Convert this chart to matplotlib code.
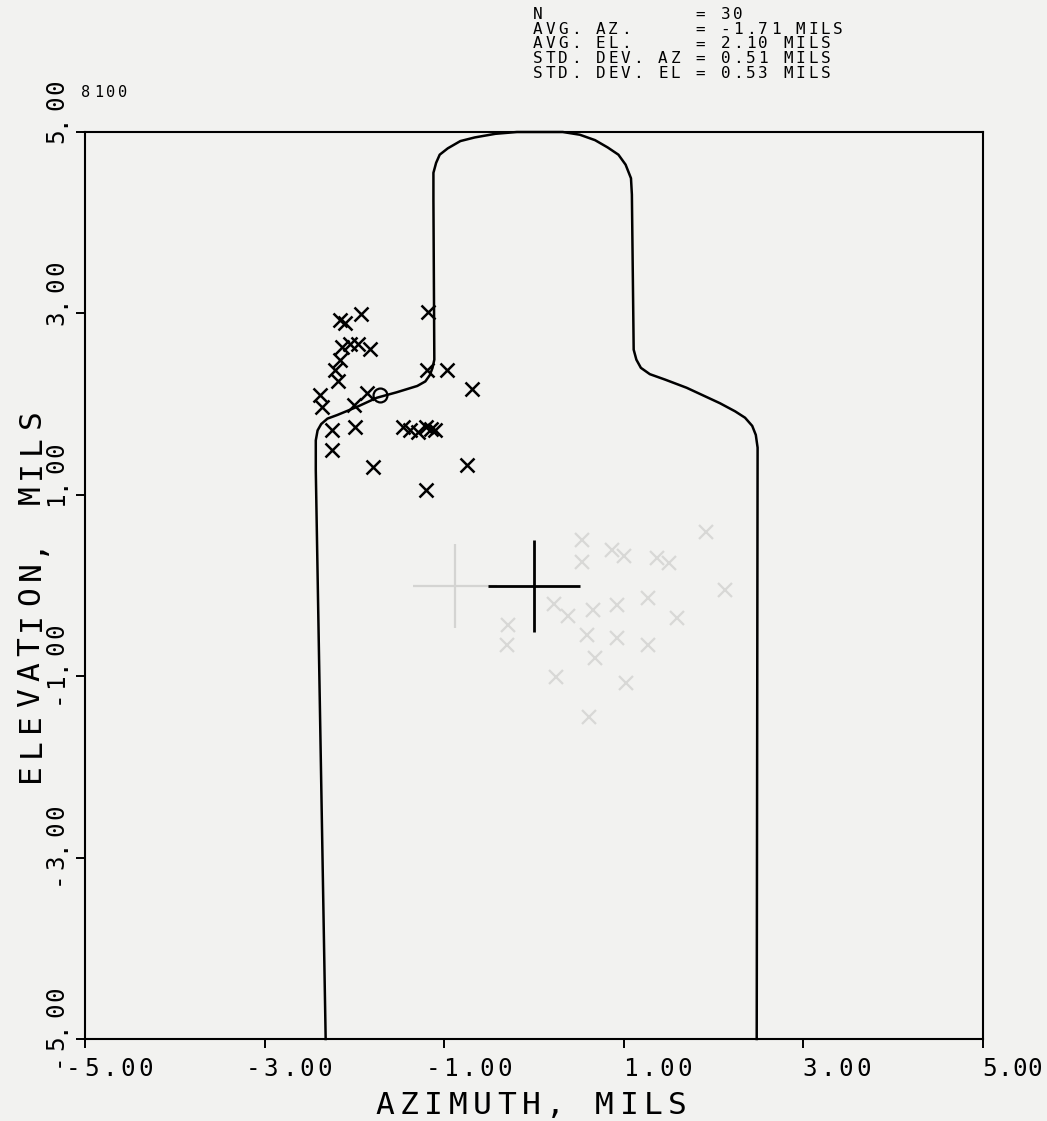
import matplotlib.pyplot as plt

# silhouette target outline, mils (bottom left, round the head, down to bottom right)
outline_az = [-2.32, -2.43, -2.43, -2.41, -2.37, -2.30, -2.19, -1.97, -1.75, -1.53,
              -1.30, -1.21, -1.16, -1.13, -1.11, -1.12, -1.12, -1.09, -1.05, -0.96,
              -0.82, -0.66, -0.43, -0.19, 0.32, 0.51, 0.68, 0.82, 0.94, 1.02,
              1.08, 1.09, 1.11, 1.14, 1.19, 1.29, 1.46, 1.70, 2.07, 2.24,
              2.35, 2.43, 2.47, 2.49, 2.48]
outline_el = [-5.00, 1.27, 1.60, 1.71, 1.78, 1.84, 1.88, 1.97, 2.07, 2.13,
              2.20, 2.25, 2.32, 2.40, 2.49, 4.25, 4.55, 4.66, 4.75, 4.82,
              4.90, 4.94, 4.98, 5.00, 5.00, 4.97, 4.91, 4.83, 4.75, 4.64,
              4.49, 4.31, 2.60, 2.49, 2.40, 2.33, 2.27, 2.18, 2.01, 1.92,
              1.85, 1.76, 1.66, 1.52, -5.00]

# impacts
hit_az = [-2.16, -2.11, -1.93, -1.18, -2.14, -2.05, -1.96, -1.83, -2.16, -2.22,
          -2.18, -2.38, -2.36, -2.01, -1.86, -1.19, -0.97, -0.69, -2.25, -1.99,
          -1.46, -1.29, -1.20, -1.10, -2.25, -1.79, -0.75, -1.20, -1.15, -1.38]
hit_el = [2.93, 2.89, 2.99, 3.02, 2.63, 2.66, 2.66, 2.61, 2.49, 2.38,
          2.25, 2.10, 1.97, 1.99, 2.12, 2.38, 2.38, 2.17, 1.71, 1.75,
          1.75, 1.69, 1.75, 1.71, 1.49, 1.31, 1.33, 1.05, 1.72, 1.71]

# aim point
aim_az = [0.0]
aim_el = [0.0]

# stats block
stat_names = ["N", "AVG. AZ.", "AVG. EL.", "STD. DEV. AZ", "STD. DEV. EL"]
stat_values = ["30", "-1.71 MILS", "2.10 MILS", "0.51 MILS", "0.53 MILS"]
avg_az = -1.71
avg_el = 2.10
plot_id = "8100"

# marks showing through from the back of the sheet
ghost_az = [0.53, 0.53, 0.87, 1.00, 1.37, 1.50, 1.92, 2.13, 1.27, 1.59, 0.22, 0.38,
            0.66, 0.92, 0.59, 0.92, 1.27, -0.29, -0.30, 0.68, 0.25, 1.03, 0.61]
ghost_el = [0.50, 0.26, 0.39, 0.32, 0.30, 0.25, 0.59, -0.05, -0.14, -0.36, -0.20, -0.34,
            -0.27, -0.22, -0.55, -0.58, -0.66, -0.44, -0.66, -0.80, -1.01, -1.08, -1.45]
ghost_aim_az = [-0.88]
ghost_aim_el = [0.0]

x_ticks = [-5, -3, -1, 1, 3, 5]
y_ticks = [5, 3, 1, -1, -3, -5]

W, H = 1047, 1121
paper = '#f2f2f0'
mono = 'DejaVu Sans Mono'

fig = plt.figure(figsize=(W / 100, H / 100), dpi=100, facecolor=paper)
ax = fig.add_axes([85 / W, 1 - 1039 / H, 898 / W, 907 / H])
ax.set_facecolor(paper)
ax.set_xlim(-5, 5)
ax.set_ylim(-5, 5)

ax.plot(ghost_az, ghost_el, 'x', ms=10, mew=1.6, color='#d8d8d6')
ax.plot(ghost_aim_az, ghost_aim_el, '+', ms=60, mew=1.6, color='#d4d4d2')

ax.plot(outline_az, outline_el, color='black', lw=1.8, clip_on=False,
        solid_joinstyle='round')
ax.plot(hit_az, hit_el, 'x', ms=10, mew=1.8, color='black')
ax.plot([avg_az], [avg_el], 'o', ms=10, mfc='none', mec='black', mew=1.6)
ax.plot(aim_az, aim_el, '+', ms=66, mew=2.0, color='black')

for s in ax.spines.values():
    s.set_linewidth(1.5)
ax.set_xticks(x_ticks)
ax.set_yticks(y_ticks)
ax.tick_params(direction='out', length=6.5, width=1.4,
               labelbottom=False, labelleft=False)


def spaced(x, y, s, step, size, rot=0):
    # plotter lettering: one glyph per fixed-pitch cell (pixel coords, top-left origin)
    for i, ch in enumerate(s):
        if ch == ' ':
            continue
        cx, cy = (x, y - i * step) if rot else (x + i * step, y)
        fig.text(cx / W, 1 - cy / H, ch, fontsize=size, family=mono, rotation=rot,
                 rotation_mode='anchor', ha='center', va='center_baseline')


def to_px(az, el):
    dx, dy = ax.transData.transform((az, el))
    return dx, H - dy


# tick labels (the last one is squeezed against the sheet edge, as on the original)
for v in x_ticks:
    lab = f"{v:.2f}"
    k = lab.index('.') - 1
    px, _ = to_px(v, -5)
    x0 = px + 6.5 - k * 18.0
    step = min(18.0, (W - 12 - x0) / (len(lab) - 1))
    spaced(x0, 1067, lab, step, 17.5)

for v in y_ticks:
    lab = f"{v:.2f}"
    k = lab.index('.') - 1
    _, py = to_px(-5, v)
    spaced(54, py + 4 + k * 16.5, lab, 16.5, 17.5, rot=90)

# axis titles
spaced(385, 1103, "AZIMUTH, MILS", 24.4, 22.5)
spaced(28, 773, "ELEVATION, MILS", 25.3, 22.5, rot=90)

# header
spaced(86, 91, plot_id, 12.3, 11)
for j, (name, val) in enumerate(zip(stat_names, stat_values)):
    line = f"{name:<13}= {val}"
    spaced(538, 13 + j * 14.7, line, 12.5, 11.5)

fig.savefig('out.png', dpi=100, facecolor=paper)
